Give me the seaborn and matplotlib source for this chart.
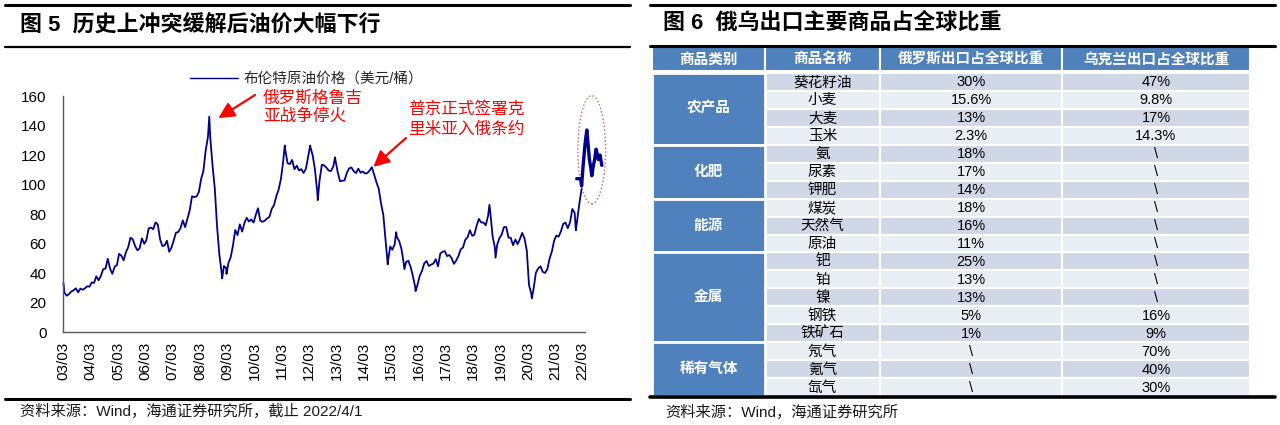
import pandas as pd
import seaborn as sns
import matplotlib.pyplot as plt
import matplotlib.dates as mdates
from matplotlib.patches import Ellipse, Rectangle
from matplotlib.lines import Line2D

# Brent monthly levels (Mar 2003 - Feb 2022)
brent_monthly = [
    # 2003 Mar-Dec
    27.0, 24.8, 25.8, 27.6, 28.4, 29.8, 27.1, 29.6, 28.8, 29.8,
    # 2004
    31.2, 30.9, 33.8, 33.4, 37.9, 35.2, 38.2, 42.7, 43.2, 49.8, 43.1, 39.6,
    # 2005
    44.3, 45.6, 53.1, 51.9, 48.7, 54.3, 57.6, 64.1, 62.9, 58.5, 55.5, 56.8,
    # 2006
    63.6, 59.9, 62.3, 70.4, 70.9, 69.8, 74.4, 73.0, 62.8, 58.4, 58.9, 62.0,
    # 2007
    54.5, 57.6, 62.1, 67.5, 67.9, 70.6, 75.8, 71.2, 77.0, 82.5, 92.1, 91.5,
    # 2008
    92.0, 95.0, 103.6, 109.1, 122.8, 132.3, 132.7, 113.2, 97.2, 71.6, 52.5, 40.4,
    # 2009
    44.9, 43.2, 46.8, 50.8, 58.6, 69.3, 65.8, 73.1, 68.2, 73.9, 77.5, 75.0,
    # 2010
    76.4, 74.3, 79.3, 84.0, 75.6, 74.8, 75.6, 77.1, 78.2, 83.5, 86.1, 92.0,
    # 2011
    96.5, 103.7, 114.6, 123.3, 114.5, 113.9, 116.7, 110.4, 112.8, 109.6, 110.5, 107.9,
    # 2012
    110.7, 119.3, 125.5, 119.8, 110.3, 95.2, 102.6, 113.4, 113.0, 111.5, 109.5, 109.2,
    # 2013
    112.3, 116.1, 108.5, 102.3, 102.6, 102.9, 107.9, 111.0, 111.6, 109.1, 107.8, 110.8,
    # 2014
    108.1, 108.9, 107.5, 107.8, 109.5, 111.8, 106.8, 101.6, 97.1, 87.4, 79.4, 62.3,
    # 2015
    47.8, 58.1, 55.9, 59.5, 64.6, 61.7, 56.5, 46.5, 47.6, 48.4, 44.3, 38.0,
    # 2016
    30.7, 32.2, 38.2, 41.6, 46.7, 48.3, 44.9, 45.8, 46.6, 49.5, 44.7, 53.3,
    # 2017
    54.6, 54.9, 51.6, 52.3, 50.3, 46.4, 48.5, 51.7, 56.2, 57.5, 62.7, 64.4,
    # 2018
    69.1, 65.3, 66.0, 72.1, 76.8, 74.4, 74.3, 72.5, 78.9, 81.0, 64.8, 57.4,
    # 2019
    59.4, 64.0, 66.1, 71.2, 71.3, 64.2, 63.9, 59.0, 62.8, 59.7, 63.2, 67.3,
    # 2020
    63.6, 55.0, 32.0, 26.0, 29.4, 40.3, 43.2, 44.7, 40.9, 40.2, 42.7, 49.9,
    # 2021
    54.8, 62.3, 65.4, 64.8, 68.3, 73.4, 74.3, 70.5, 74.5, 83.5, 80.9, 74.2,
    # 2022 Jan-Feb
    86.5, 97.0,
]

# daily highs / lows visible in the picture
extreme_dates = ['2003-03-03', '2008-07-03', '2008-12-22', '2009-02-18', '2011-04-08',
                 '2012-03-13', '2012-06-22', '2013-02-08', '2015-01-13', '2015-05-06',
                 '2015-08-24', '2016-01-20', '2018-10-03', '2018-12-24', '2020-04-21',
                 '2021-12-01']
extreme_vals = [33.5, 146.0, 36.5, 39.5, 126.5,
                126.5, 89.5, 118.5, 46.0, 67.8,
                42.7, 27.9, 86.3, 50.5, 23.0,
                69.0]

# heavier circled segment at the end of the series
tail_dates = ['2021-12-12', '2022-02-02', '2022-02-16', '2022-03-07', '2022-04-04',
              '2022-04-27', '2022-05-14', '2022-05-31', '2022-06-17', '2022-07-02',
              '2022-07-20', '2022-08-09', '2022-08-29', '2022-09-12', '2022-09-28',
              '2022-10-21', '2022-11-13']
tail_vals = [104, 104, 99, 112, 128, 137, 127, 117, 112, 106, 112, 117, 124, 121, 117, 120, 113]

# table
headers = ['商品类别', '商品名称', '俄罗斯出口占全球比重', '乌克兰出口占全球比重']
categories = ['农产品', '化肥', '能源', '金属', '稀有气体']
cat_sizes = [4, 3, 3, 5, 3]
goods = ['葵花籽油', '小麦', '大麦', '玉米', '氨', '尿素', '钾肥', '煤炭', '天然气', '原油',
         '钯', '铂', '镍', '钢铁', '铁矿石', '氖气', '氪气', '氙气']
russia_share = ['30%', '15.6%', '13%', '2.3%', '18%', '17%', '14%', '18%', '16%', '11%',
                '25%', '13%', '13%', '5%', '1%', '\\', '\\', '\\']
ukraine_share = ['47%', '9.8%', '17%', '14.3%', '\\', '\\', '\\', '\\', '\\', '\\',
                 '\\', '\\', '\\', '16%', '9%', '70%', '40%', '30%']

sns.set_theme(style='white')
plt.rcParams['font.family'] = ['Liberation Sans', 'Noto Sans CJK SC']
plt.rcParams['axes.unicode_minus'] = False

W, H = 1280, 425
fig = plt.figure(figsize=(12.8, 4.25), dpi=100)

def fx(px):
    return px / W

def fy(py):
    return 1 - py / H

# ---- left panel: oil price line ----
month_dates = pd.date_range('2003-03-01', periods=len(brent_monthly), freq='MS') + pd.Timedelta(days=14)
df = pd.DataFrame({'date': list(month_dates) + list(pd.to_datetime(extreme_dates)),
                   'price': brent_monthly + extreme_vals}).sort_values('date')
tail = pd.DataFrame({'date': pd.to_datetime(tail_dates), 'price': tail_vals})

line_color = '#00008f'
ax = fig.add_axes([fx(63.3), fy(332.3), fx(521.6), (332.3 - 96) / H])
sns.lineplot(data=df, x='date', y='price', color=line_color, lw=1.3, estimator=None, ax=ax)
sns.lineplot(data=tail, x='date', y='price', color=line_color, lw=2.4, estimator=None,
             sort=False, ax=ax)
for ln in ax.lines:
    ln.set_clip_on(False)

ax.set_xlim(pd.Timestamp('2003-03-01'), pd.Timestamp('2022-04-01'))
ax.set_ylim(0, 160)
ax.set_yticks(range(0, 161, 20))
ax.set_xticks(pd.date_range('2003-03-01', '2022-03-01', freq='12MS'))
ax.xaxis.set_major_formatter(mdates.DateFormatter('%y/%m'))
ax.set_xlabel('')
ax.set_ylabel('')
for side in ['top', 'right']:
    ax.spines[side].set_visible(False)
for side in ['left', 'bottom']:
    ax.spines[side].set_color('#595959')
    ax.spines[side].set_linewidth(1)
ax.tick_params(axis='both', direction='out', length=4, width=1, color='#595959',
               labelsize=11, labelcolor='black')
ax.tick_params(axis='y', pad=8)
ax.tick_params(axis='x', pad=3)
plt.setp(ax.get_xticklabels(), rotation=90)

ax.legend([Line2D([0], [0], color=line_color, lw=1.0)], ['布伦特原油价格（美元/桶）'],
          loc='center left', bbox_to_anchor=(fx(190), fy(79)), bbox_transform=fig.transFigure,
          frameon=False, handlelength=3.3, handletextpad=0.35, borderpad=0, borderaxespad=0,
          fontsize=10.5)

arrow = dict(arrowstyle='-|>', color='#ff0000', lw=1.6, mutation_scale=24, shrinkA=0, shrinkB=0)
ax.annotate('', xy=(mdates.date2num(pd.Timestamp('2008-11-01')), 145),
            xytext=(255, H - 95), textcoords='figure pixels', arrowprops=arrow)
ax.annotate('', xy=(mdates.date2num(pd.Timestamp('2014-07-05')), 112),
            xytext=(406, H - 138), textcoords='figure pixels', arrowprops=arrow)
fig.text(fx(263), fy(107), '俄罗斯格鲁吉\n亚战争停火', color='#ff0000', fontsize=12,
         ha='left', va='center', linespacing=1.25)
fig.text(fx(408), fy(119), '普京正式签署克\n里米亚入俄条约', color='#ff0000', fontsize=12,
         ha='left', va='center', linespacing=1.35)

ell = Ellipse((mdates.date2num(pd.Timestamp('2022-07-01')), 123.6), width=370, height=73.3,
              fill=False, ls=':', ec='#e05a5a', lw=1.0, clip_on=False)
ax.add_patch(ell)

# ---- right panel: table ----
col_edges = [652, 765, 880, 1062, 1250]
head_top, head_bot = 46, 71
body_top, body_bot = 73, 396
rh = (body_bot - body_top) / len(goods)
blue = '#4f81bd'
row_colors = ['#d0d8e8', '#e9edf4']

tax = fig.add_axes([fx(652), fy(397), fx(1250 - 652), (397 - 46) / H])
tax.set_xlim(652, 1250)
tax.set_ylim(397, 46)
tax.axis('off')

for j, h in enumerate(headers):
    x0, x1 = col_edges[j], col_edges[j + 1]
    tax.add_patch(Rectangle((x0, head_top), x1 - x0, head_bot - head_top, fc=blue, ec='white', lw=1.5))
    tax.text((x0 + x1) / 2, (head_top + head_bot) / 2 + 1, h, color='white', fontsize=10.5,
             fontweight='bold', ha='center', va='center')

for i, name in enumerate(goods):
    y0 = body_top + i * rh
    fc = row_colors[i % 2]
    cells = [name, russia_share[i], ukraine_share[i]]
    for j in range(1, 4):
        x0, x1 = col_edges[j], col_edges[j + 1]
        tax.add_patch(Rectangle((x0, y0), x1 - x0, rh, fc=fc, ec='white', lw=1.5))
        tax.text((x0 + x1) / 2, y0 + rh / 2 + 0.5, cells[j - 1], color='black',
                 fontsize=10.5, ha='center', va='center')

start = 0
for cat, n in zip(categories, cat_sizes):
    y0 = body_top + start * rh
    tax.add_patch(Rectangle((col_edges[0], y0), col_edges[1] - col_edges[0], n * rh,
                            fc=blue, ec='white', lw=2))
    tax.text((col_edges[0] + col_edges[1]) / 2, y0 + n * rh / 2, cat, color='white',
             fontsize=10.5, fontweight='bold', ha='center', va='center')
    start += n

# ---- frame lines, titles, sources ----
def hline(x0, x1, y, lw):
    fig.add_artist(Line2D([fx(x0), fx(x1)], [fy(y), fy(y)], color='black', lw=lw))

hline(5, 630, 5, 2.2)
hline(5, 630, 47, 1.6)
hline(5, 630, 399, 2.2)
hline(650, 1275, 5, 2.2)
hline(650, 1275, 46, 2.2)
hline(650, 1275, 397, 2.6)

fig.text(fx(20), fy(25), '图 5  历史上冲突缓解后油价大幅下行', fontsize=15.8, fontweight='bold',
         ha='left', va='center', color='black')
fig.text(fx(663), fy(23), '图 6  俄乌出口主要商品占全球比重', fontsize=15.8, fontweight='bold',
         ha='left', va='center', color='black')
fig.text(fx(20), fy(411), '资料来源：Wind，海通证券研究所，截止 2022/4/1', fontsize=11,
         ha='left', va='center', color='#1a1a1a')
fig.text(fx(665), fy(412), '资料来源：Wind，海通证券研究所', fontsize=11,
         ha='left', va='center', color='#1a1a1a')

fig.savefig('out.png', dpi=100)
